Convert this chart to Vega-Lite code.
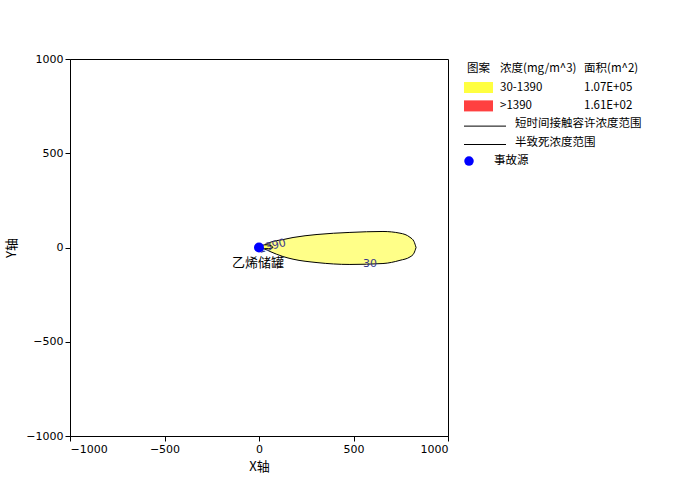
{
  "$schema": "https://vega.github.io/schema/vega-lite/v6.json",
  "autosize": {"type": "pad"},
  "padding": {"left": 5, "top": 52, "right": 0, "bottom": 0},
  "background": "white",
  "spacing": 10,
  "config": {
    "view": {"stroke": "black", "strokeWidth": 1},
    "axis": {
      "grid": false,
      "domainColor": "black",
      "tickColor": "black",
      "tickSize": 5,
      "labelColor": "black",
      "labelFont": "DejaVu Sans",
      "labelFontSize": 11,
      "titleFont": "Noto Sans CJK SC",
      "titleFontSize": 13,
      "titleFontWeight": "normal",
      "titleColor": "black",
      "format": "d"
    },
    "text": {"font": "Noto Sans CJK SC"}
  },
  "datasets": {
    "plume": [
      {"x": 0, "top": 0, "bottom": 0},
      {"x": 16, "top": 7, "bottom": -5},
      {"x": 32, "top": 14, "bottom": -9},
      {"x": 58, "top": 27, "bottom": -21},
      {"x": 127, "top": 42, "bottom": -48},
      {"x": 180, "top": 53, "bottom": -62},
      {"x": 307, "top": 69, "bottom": -80},
      {"x": 481, "top": 80, "bottom": -90},
      {"x": 656, "top": 85, "bottom": -85},
      {"x": 746, "top": 76, "bottom": -68},
      {"x": 799, "top": 54, "bottom": -50},
      {"x": 820, "top": 32, "bottom": -30},
      {"x": 831, "top": 0, "bottom": 0}
    ],
    "inner": [
      {"x": 0, "top": 0, "bottom": 0},
      {"x": 10, "top": 8, "bottom": -4},
      {"x": 30, "top": 14, "bottom": -6},
      {"x": 50, "top": 14, "bottom": -6},
      {"x": 65, "top": 9, "bottom": -4},
      {"x": 75, "top": 0, "bottom": 0}
    ],
    "source": [{"x": 0, "y": 0, "name": "乙烯储罐"}],
    "contourLabels": [
      {"x": 587, "y": -90, "label": "30", "angle": 0},
      {"x": 70, "y": 6, "label": "1390", "angle": -15}
    ],
    "legendText": [
      {"c": 8, "r": 0, "t": "图案"},
      {"c": 41, "r": 0, "t": "浓度(mg/m^3)"},
      {"c": 125, "r": 0, "t": "面积(m^2)"},
      {"c": 41, "r": 1, "t": "30-1390"},
      {"c": 125, "r": 1, "t": "1.07E+05"},
      {"c": 41, "r": 2, "t": ">1390"},
      {"c": 125, "r": 2, "t": "1.61E+02"},
      {"c": 56, "r": 3, "t": "短时间接触容许浓度范围"},
      {"c": 56, "r": 4, "t": "半致死浓度范围"},
      {"c": 35, "r": 5, "t": "事故源"}
    ],
    "legendSwatch": [
      {"c1": 5, "c2": 34, "r1": 0.7, "r2": 1.3, "color": "#FFFF40"},
      {"c1": 5, "c2": 34, "r1": 1.7, "r2": 2.3, "color": "#FF4040"}
    ],
    "legendLine": [
      {"c1": 5, "c2": 47, "r": 3.1},
      {"c1": 5, "c2": 47, "r": 4.1}
    ],
    "legendDot": [{"c": 10, "r": 5}]
  },
  "hconcat": [
    {
      "width": 378,
      "height": 377,
      "layer": [
        {
          "data": {"name": "plume"},
          "mark": {"type": "area", "fill": "#FFFF88", "stroke": "black", "strokeWidth": 1, "interpolate": "monotone", "clip": true},
          "encoding": {
            "x": {"field": "x", "type": "quantitative", "scale": {"domain": [-1000, 1000], "nice": false, "zero": false},
                  "axis": {"values": [-1000, -500, 0, 500, 1000], "title": "X轴", "titlePadding": 6, "labelPadding": 2}},
            "y": {"field": "top", "type": "quantitative", "scale": {"domain": [-1000, 1000], "nice": false, "zero": false},
                  "axis": {"values": [-1000, -500, 0, 500, 1000], "title": "Y轴", "titlePadding": 7, "labelPadding": 2}},
            "y2": {"field": "bottom"}
          }
        },
        {
          "data": {"name": "inner"},
          "mark": {"type": "area", "fill": "#FFFF60", "stroke": "black", "strokeWidth": 1, "interpolate": "monotone"},
          "encoding": {
            "x": {"field": "x", "type": "quantitative"},
            "y": {"field": "top", "type": "quantitative"},
            "y2": {"field": "bottom"}
          }
        },
        {
          "data": {"name": "contourLabels"},
          "mark": {"type": "text", "font": "DejaVu Sans", "fontSize": 11, "color": "#3a3a8a", "baseline": "middle", "align": "center"},
          "encoding": {
            "x": {"field": "x", "type": "quantitative"},
            "y": {"field": "y", "type": "quantitative"},
            "text": {"field": "label"},
            "angle": {"field": "angle", "type": "quantitative", "scale": null}
          }
        },
        {
          "data": {"name": "source"},
          "mark": {"type": "point", "filled": true, "color": "#0000FF", "opacity": 1, "size": 100},
          "encoding": {
            "x": {"field": "x", "type": "quantitative"},
            "y": {"field": "y", "type": "quantitative"}
          }
        },
        {
          "data": {"name": "source"},
          "mark": {"type": "text", "fontSize": 13, "color": "black", "dy": 15, "dx": -1, "align": "center", "baseline": "middle"},
          "encoding": {
            "x": {"field": "x", "type": "quantitative"},
            "y": {"field": "y", "type": "quantitative"},
            "text": {"field": "name"}
          }
        }
      ]
    },
    {
      "width": 210,
      "height": 377,
      "view": {"stroke": null},
      "layer": [
        {
          "data": {"name": "legendSwatch"},
          "mark": {"type": "rect"},
          "encoding": {
            "x": {"field": "c1", "type": "quantitative", "scale": {"domain": [0, 210], "nice": false, "zero": false}, "axis": null},
            "x2": {"field": "c2"},
            "y": {"field": "r1", "type": "quantitative", "scale": {"domain": [-0.55, 19.95], "nice": false, "zero": false, "reverse": true}, "axis": null},
            "y2": {"field": "r2"},
            "fill": {"field": "color", "type": "nominal", "scale": null}
          }
        },
        {
          "data": {"name": "legendLine"},
          "mark": {"type": "rule", "color": "black", "strokeWidth": 1},
          "encoding": {
            "x": {"field": "c1", "type": "quantitative"},
            "x2": {"field": "c2"},
            "y": {"field": "r", "type": "quantitative"}
          }
        },
        {
          "data": {"name": "legendDot"},
          "mark": {"type": "point", "filled": true, "color": "#0000FF", "opacity": 1, "size": 90},
          "encoding": {
            "x": {"field": "c", "type": "quantitative"},
            "y": {"field": "r", "type": "quantitative"}
          }
        },
        {
          "data": {"name": "legendText"},
          "mark": {"type": "text", "fontSize": 11.5, "color": "black", "align": "left", "baseline": "middle"},
          "encoding": {
            "x": {"field": "c", "type": "quantitative"},
            "y": {"field": "r", "type": "quantitative"},
            "text": {"field": "t"}
          }
        }
      ]
    }
  ]
}
